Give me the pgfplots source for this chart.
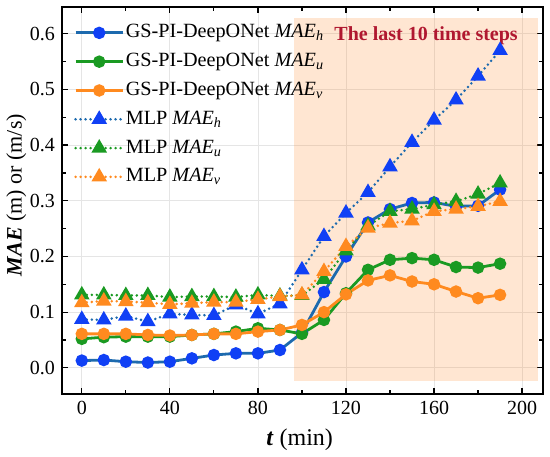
\documentclass[border=0pt]{standalone}
\usepackage{fontspec}
\setmainfont{Liberation Serif}
\usepackage{pgfplots}
\pgfplotsset{compat=1.18}
\definecolor{cblueL}{HTML}{1D6AAE}
\definecolor{cblueM}{HTML}{1040F5}
\definecolor{cgreen}{HTML}{1A9A22}
\definecolor{corange}{HTML}{FF8A1F}
\definecolor{shadec}{HTML}{FF8C32}
\definecolor{darkred}{HTML}{B01830}
\newcommand{\mae}[1]{\textit{MAE}\textsubscript{\textit{#1}}}
\begin{document}
\begin{tikzpicture}
\begin{axis}[
  scale only axis, width=240.5pt, height=193.5pt,
  xmin=-9, xmax=209.5, ymin=-0.047, ymax=0.648,
  xtick={0,40,80,120,160,200}, minor xtick={20,60,100,140,180},
  ytick={0,0.1,0.2,0.3,0.4,0.5,0.6}, minor ytick={0.05,0.15,0.25,0.35,0.45,0.55},
  /pgf/number format/assume math mode=true,
  yticklabel style={/pgf/number format/.cd, fixed, fixed zerofill, precision=1},
  tick label style={font=\fontsize{10}{12}\selectfont},
  tick align=inside, major tick length=3pt, minor tick length=1.8pt,
  tick style={black, line width=0.6pt},
  axis line style={line width=0.9pt},
  grid=major, major grid style={black!10, line width=0.4pt},
  xlabel={\textbf{\textit{t}} (min)},
  ylabel={\textbf{\textit{MAE}} (m) or (m/s)},
  xlabel style={font=\fontsize{12}{14}\selectfont, at={(axis description cs:0.494,-0.119)}, anchor=center},
  ylabel style={font=\fontsize{11}{13}\selectfont, at={(axis description cs:-0.095,0.514)}, anchor=center, rotate=0},
  legend style={at={(0.015,0.9755)}, anchor=north west, draw=none, fill=none,
    font=\fontsize{10.1}{12}\selectfont, row sep=2.4pt,
    nodes={text height=7pt, text depth=2pt, inner sep=1.5pt}},
  legend cell align=left,
  legend image code/.code={\path[use as bounding box, draw=none, fill=none] (0cm,-1pt) rectangle (0.83cm,1pt);
    \draw[mark repeat=2,mark phase=2] plot coordinates {(0cm,0cm)(0.415cm,0cm)(0.83cm,0cm)};},
]
\coordinate (ll) at (rel axis cs:0,0);
\coordinate (ur) at (rel axis cs:1,1);
\fill[shadec, fill opacity=0.22] (axis cs:96.5,-0.023) rectangle (axis cs:207,0.628);

\addplot[color=cblueL, line width=1.4pt, mark=*, mark size=2.4pt, mark options={fill=cblueM, draw=cblueM, solid}] coordinates {
(0,0.013)(10,0.014)(20,0.011)(30,0.0095)(40,0.011)(50,0.017)(60,0.023)(70,0.026)(80,0.026)(90,0.032)
(100,0.063)(110,0.136)(120,0.200)(130,0.261)(140,0.285)(150,0.296)(160,0.297)(170,0.290)(180,0.291)(190,0.320)};
\addlegendentry{GS-PI-DeepONet \mae{h}}
\addplot[color=cgreen, line width=1.4pt, mark=*, mark size=2.4pt, mark options={fill=cgreen, draw=cgreen, solid}] coordinates {
(0,0.052)(10,0.055)(20,0.056)(30,0.056)(40,0.056)(50,0.059)(60,0.061)(70,0.065)(80,0.071)(90,0.068)
(100,0.061)(110,0.086)(120,0.134)(130,0.176)(140,0.194)(150,0.197)(160,0.194)(170,0.181)(180,0.180)(190,0.187)};
\addlegendentry{GS-PI-DeepONet \mae{u}}
\addplot[color=corange, line width=1.4pt, mark=*, mark size=2.4pt, mark options={fill=corange, draw=corange, solid}] coordinates {
(0,0.061)(10,0.061)(20,0.061)(30,0.059)(40,0.058)(50,0.059)(60,0.061)(70,0.061)(80,0.065)(90,0.068)
(100,0.077)(110,0.100)(120,0.132)(130,0.157)(140,0.166)(150,0.155)(160,0.150)(170,0.137)(180,0.125)(190,0.131)};
\addlegendentry{GS-PI-DeepONet \mae{v}}
\addplot[color=cblueL, line width=1.4pt, dash pattern=on 0pt off 2.5pt, line cap=round, mark=triangle*, mark size=3.1pt, mark options={fill=cblueM, draw=cblueM, solid}] coordinates {
(0,0.087)(10,0.086)(20,0.093)(30,0.083)(40,0.097)(50,0.095)(60,0.094)(70,0.113)(80,0.097)(90,0.115)
(100,0.176)(110,0.236)(120,0.278)(130,0.315)(140,0.361)(150,0.405)(160,0.445)(170,0.481)(180,0.524)(190,0.570)};
\addlegendentry{MLP \mae{h}}
\addplot[color=cgreen, line width=1.4pt, dash pattern=on 0pt off 2.5pt, line cap=round, mark=triangle*, mark size=3.1pt, mark options={fill=cgreen, draw=cgreen, solid}] coordinates {
(0,0.131)(10,0.131)(20,0.130)(30,0.130)(40,0.127)(50,0.128)(60,0.128)(70,0.127)(80,0.131)(90,0.129)
(100,0.130)(110,0.159)(120,0.210)(130,0.255)(140,0.281)(150,0.285)(160,0.293)(170,0.299)(180,0.312)(190,0.332)};
\addlegendentry{MLP \mae{u}}
\addplot[color=corange, line width=1.4pt, dash pattern=on 0pt off 2.5pt, line cap=round, mark=triangle*, mark size=3.1pt, mark options={fill=corange, draw=corange, solid}] coordinates {
(0,0.117)(10,0.120)(20,0.119)(30,0.117)(40,0.114)(50,0.116)(60,0.118)(70,0.118)(80,0.123)(90,0.128)
(100,0.131)(110,0.173)(120,0.218)(130,0.251)(140,0.260)(150,0.264)(160,0.281)(170,0.285)(180,0.290)(190,0.299)};
\addlegendentry{MLP \mae{v}}

\node[font=\fontsize{10}{12}\selectfont\bfseries, text=darkred] at (axis cs:156.4,0.596) {The last 10 time steps};
\end{axis}
\pgfresetboundingbox
\path[use as bounding box] ([shift={(-31pt,-31.5pt)}]ll) rectangle ([shift={(3.5pt,3.5pt)}]ur);
\end{tikzpicture}
\end{document}
